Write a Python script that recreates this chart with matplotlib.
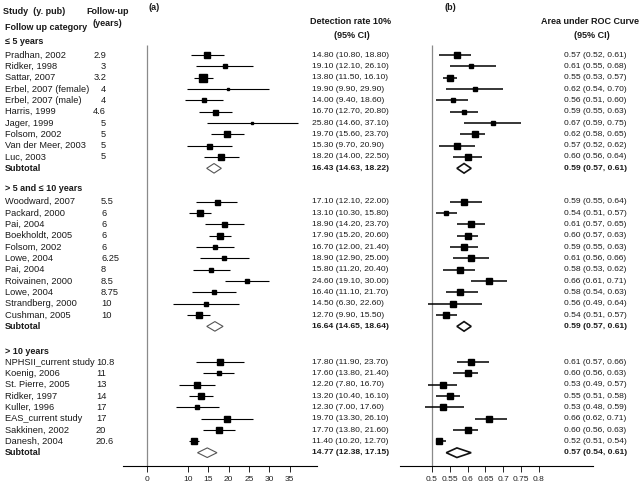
import numpy as np
import matplotlib.pyplot as plt

plt.rcParams["font.family"] = ["Liberation Sans", "DejaVu Sans"]

# group 1: <= 5 years
studies1 = ["Pradhan, 2002", "Ridker, 1998", "Sattar, 2007", "Erbel, 2007 (female)",
            "Erbel, 2007 (male)", "Harris, 1999", "Jager, 1999", "Folsom, 2002",
            "Van der Meer, 2003", "Luc, 2003"]
followup1 = ["2.9", "3", "3.2", "4", "4", "4.6", "5", "5", "5", "5"]
dr1 = [14.80, 19.10, 13.80, 19.90, 14.00, 16.70, 25.80, 19.70, 15.30, 18.20]
dr1_lo = [10.80, 12.10, 11.50, 9.90, 9.40, 12.70, 14.60, 15.60, 9.70, 14.00]
dr1_hi = [18.80, 26.10, 16.10, 29.90, 18.60, 20.80, 37.10, 23.70, 20.90, 22.50]
auc1 = [0.57, 0.61, 0.55, 0.62, 0.56, 0.59, 0.67, 0.62, 0.57, 0.60]
auc1_lo = [0.52, 0.55, 0.53, 0.54, 0.51, 0.55, 0.59, 0.58, 0.52, 0.56]
auc1_hi = [0.61, 0.68, 0.57, 0.70, 0.60, 0.63, 0.75, 0.65, 0.62, 0.64]
sub_dr1 = [16.43, 14.63, 18.22]
sub_auc1 = [0.59, 0.57, 0.61]

# group 2: > 5 and <= 10 years
studies2 = ["Woodward, 2007", "Packard, 2000", "Pai, 2004", "Boekholdt, 2005",
            "Folsom, 2002", "Lowe, 2004", "Pai, 2004", "Roivainen, 2000",
            "Lowe, 2004", "Strandberg, 2000", "Cushman, 2005"]
followup2 = ["5.5", "6", "6", "6", "6", "6.25", "8", "8.5", "8.75", "10", "10"]
dr2 = [17.10, 13.10, 18.90, 17.90, 16.70, 18.90, 15.80, 24.60, 16.40, 14.50, 12.70]
dr2_lo = [12.10, 10.30, 14.20, 15.20, 12.00, 12.90, 11.20, 19.10, 11.10, 6.30, 9.90]
dr2_hi = [22.00, 15.80, 23.70, 20.60, 21.40, 25.00, 20.40, 30.00, 21.70, 22.60, 15.50]
auc2 = [0.59, 0.54, 0.61, 0.60, 0.59, 0.61, 0.58, 0.66, 0.58, 0.56, 0.54]
auc2_lo = [0.55, 0.51, 0.57, 0.57, 0.55, 0.56, 0.53, 0.61, 0.54, 0.49, 0.51]
auc2_hi = [0.64, 0.57, 0.65, 0.63, 0.63, 0.66, 0.62, 0.71, 0.63, 0.64, 0.57]
sub_dr2 = [16.64, 14.65, 18.64]
sub_auc2 = [0.59, 0.57, 0.61]

# group 3: > 10 years
studies3 = ["NPHSII_current study", "Koenig, 2006", "St. Pierre, 2005", "Ridker, 1997",
            "Kuller, 1996", "EAS_current study", "Sakkinen, 2002", "Danesh, 2004"]
followup3 = ["10.8", "11", "13", "14", "17", "17", "20", "20.6"]
dr3 = [17.80, 17.60, 12.20, 13.20, 12.30, 19.70, 17.70, 11.40]
dr3_lo = [11.90, 13.80, 7.80, 10.40, 7.00, 13.30, 13.80, 10.20]
dr3_hi = [23.70, 21.40, 16.70, 16.10, 17.60, 26.10, 21.60, 12.70]
auc3 = [0.61, 0.60, 0.53, 0.55, 0.53, 0.66, 0.60, 0.52]
auc3_lo = [0.57, 0.56, 0.49, 0.51, 0.48, 0.62, 0.56, 0.51]
auc3_hi = [0.66, 0.63, 0.57, 0.58, 0.59, 0.71, 0.63, 0.54]
sub_dr3 = [14.77, 12.38, 17.15]
sub_auc3 = [0.57, 0.54, 0.61]

categories = ["\u2264 5 years", "> 5 and \u2264 10 years", "> 10 years"]

# marker sizes (study weights), in points
msize_a1 = [4.2, 2.6, 5.2, 1.8, 3.2, 3.6, 1.5, 4.0, 3.6, 4.4]
msize_a2 = [3.6, 4.2, 3.6, 4.0, 3.2, 2.6, 3.2, 2.6, 2.8, 2.2, 4.0]
msize_a3 = [3.8, 3.4, 3.8, 4.4, 3.4, 4.0, 4.0, 4.6]
msize_b1 = [4.0, 3.4, 4.8, 3.4, 3.4, 3.2, 2.8, 4.0, 3.8, 5.0]
msize_b2 = [4.6, 3.4, 4.4, 4.4, 3.8, 4.2, 4.2, 4.4, 3.8, 3.8, 4.6]
msize_b3 = [4.8, 4.8, 5.0, 4.8, 4.8, 4.8, 5.0, 4.6]

groups = [
    (studies1, followup1, dr1, dr1_lo, dr1_hi, auc1, auc1_lo, auc1_hi, sub_dr1, sub_auc1, msize_a1, msize_b1),
    (studies2, followup2, dr2, dr2_lo, dr2_hi, auc2, auc2_lo, auc2_hi, sub_dr2, sub_auc2, msize_a2, msize_b2),
    (studies3, followup3, dr3, dr3_lo, dr3_hi, auc3, auc3_lo, auc3_hi, sub_dr3, sub_auc3, msize_a3, msize_b3),
]

W, H = 641, 488
TOP = 42      # pixel row of first category header
ROW = 11.33   # pixels per table row
AXIS_Y = 466
header_rows = [0, 12.9, 27.3]
first_gap = [1.15, 1.2, 0.95]
fu_align = [("right", 106), ("left", 101), ("left", 96)]

TXT = "#1a1a1a"
name_kw = dict(fontsize=6.7, color=TXT, va="center")
num_kw = dict(fontsize=6.1, color=TXT, va="center")
head_kw = dict(fontsize=6.5, fontweight="bold", color=TXT, va="center")

fig = plt.figure(figsize=(W / 100, H / 100), dpi=100)
ax0 = fig.add_axes([0, 0, 1, 1])
ax0.set_xlim(0, W)
ax0.set_ylim(H, 0)
ax0.axis("off")


def forest_axes(left_px, right_px, ref_px, ref_val, scale):
    ax = fig.add_axes([left_px / W, 0, (right_px - left_px) / W, 1])
    ax.set_xlim(ref_val + (left_px - ref_px) / scale, ref_val + (right_px - ref_px) / scale)
    ax.set_ylim(H, 0)
    ax.set_facecolor("none")
    for s in ["top", "right", "left"]:
        ax.spines[s].set_visible(False)
    ax.spines["bottom"].set_position(("data", AXIS_Y))
    ax.spines["bottom"].set_linewidth(0.8)
    ax.set_yticks([])
    ax.tick_params(axis="x", direction="out", length=4, width=0.7, labelsize=6, pad=3,
                   colors="#222")
    ax.vlines(ref_val, 45, AXIS_Y, color="#8a8a8a", lw=0.9)
    return ax


axa = forest_axes(123, 317, 147, 0.0, 4.08)
axa.set_xticks([0, 10, 15, 20, 25, 30, 35])
axa.set_xticklabels(["0", "10", "15", "20", "25", "30", "35"])
axb = forest_axes(400, 593, 432, 0.5, 356)
axb.set_xticks([0.5, 0.55, 0.6, 0.65, 0.7, 0.75, 0.8])
axb.set_xticklabels(["0.5", "0.55", "0.6", "0.65", "0.7", "0.75", "0.8"])


def diamond(ax, est, lo, hi, y, ec, lw):
    ax.fill([lo, est, hi, est, lo], [y, y - 4.8, y, y + 4.8, y],
            facecolor="white", edgecolor=ec, lw=lw, zorder=3)


# headers
ax0.text(3, 11, "Study  (y. pub)", **head_kw)
ax0.text(5, 27, "Follow up category", **head_kw)
ax0.text(108, 11, "Follow-up", ha="center", **head_kw)
ax0.text(107, 23, "(years)", ha="center", **head_kw)
ax0.text(154, 8, "(a)", ha="center", **head_kw)
ax0.text(450, 8, "(b)", ha="center", **head_kw)
ax0.text(351, 21, "Detection rate 10%", ha="center", **head_kw)
ax0.text(352, 35, "(95% CI)", ha="center", **head_kw)
ax0.text(590, 21, "Area under ROC Curve", ha="center", **head_kw)
ax0.text(592, 35, "(95% CI)", ha="center", **head_kw)

for g, (names, fu, d, dlo, dhi, a, alo, ahi, sd, sa, ma, mb) in enumerate(groups):
    hy = TOP + header_rows[g] * ROW
    ax0.text(5, hy, categories[g], **head_kw)
    ys = TOP + (header_rows[g] + first_gap[g] + np.arange(len(names))) * ROW
    ha, fx = fu_align[g]
    for i, y in enumerate(ys):
        ax0.text(5, y, names[i], **name_kw)
        ax0.text(fx, y, fu[i], ha=ha, **name_kw)
        ax0.text(312, y, f"{d[i]:.2f} ({dlo[i]:.2f}, {dhi[i]:.2f})", **num_kw)
        ax0.text(564, y, f"{a[i]:.2f} ({alo[i]:.2f}, {ahi[i]:.2f})", **num_kw)
        axa.hlines(y, dlo[i], dhi[i], color="black", lw=0.8)
        axa.plot(d[i], y, "s", color="black", ms=ma[i])
        axb.hlines(y, alo[i], ahi[i], color="black", lw=1.1)
        axb.plot(a[i], y, "s", color="black", ms=mb[i])
    sy = ys[-1] + ROW
    ax0.text(5, sy, "Subtotal", **head_kw)
    ax0.text(312, sy, f"{sd[0]:.2f} ({sd[1]:.2f}, {sd[2]:.2f})", fontweight="bold",
             **num_kw)
    ax0.text(564, sy, f"{sa[0]:.2f} ({sa[1]:.2f}, {sa[2]:.2f})", fontweight="bold",
             **num_kw)
    diamond(axa, sd[0], sd[1], sd[2], sy, "#555555", 0.8)
    diamond(axb, sa[0], sa[1], sa[2], sy, "#111111", 1.2)

fig.savefig("out.png", dpi=100)
